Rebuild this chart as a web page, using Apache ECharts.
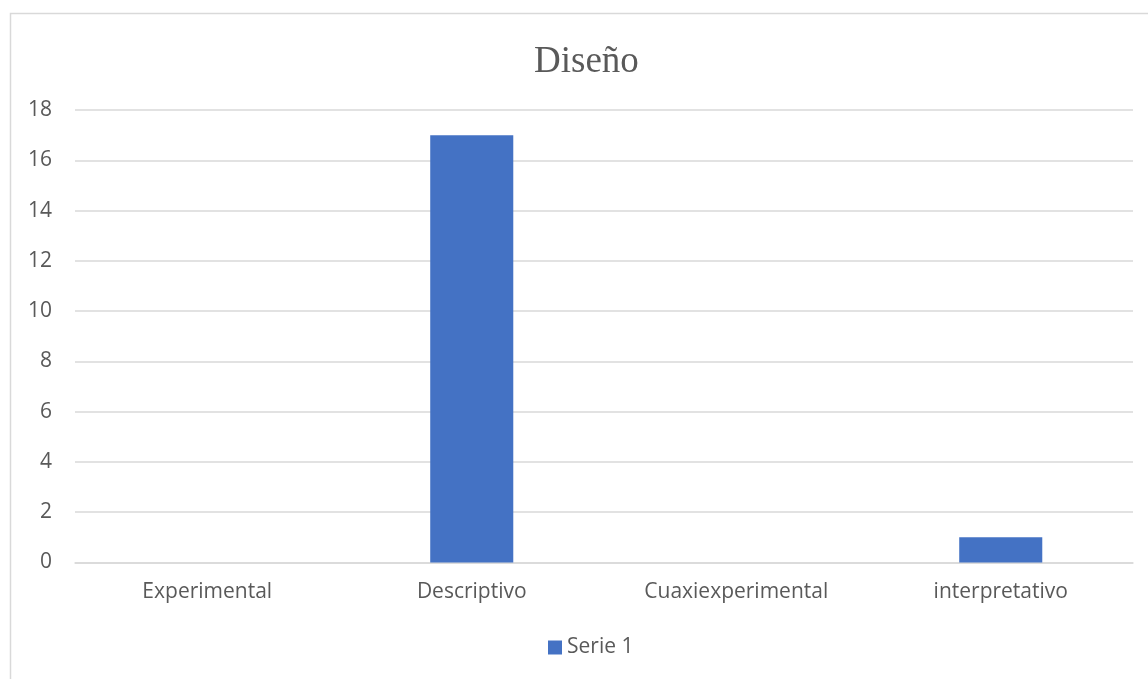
<!DOCTYPE html>
<html>
<head>
<meta charset="utf-8">
<script src="https://cdn.jsdelivr.net/npm/echarts@6/dist/echarts.min.js"></script>
<style>
html,body{margin:0;padding:0;background:#fff;}
#chart{width:1148px;height:679px;}
</style>
</head>
<body>
<div id="chart"></div>
<script>
const categories = ['Experimental', 'Descriptivo', 'Cuaxiexperimental', 'interpretativo'];
const serie1 = [0, 17, 0, 1];
const seriesName = 'Serie 1';
const chartTitle = 'Diseño';
const yMin = 0, yMax = 18, yStep = 2;

const chart = echarts.init(document.getElementById('chart'), null, {renderer: 'canvas'});
const textColor = '#595959';
const gridColor = '#d9d9d9';
chart.setOption({
  animation: false,
  backgroundColor: '#fff',
  graphic: [{
    type: 'rect',
    shape: {x: 10.5, y: 13.5, width: 1300, height: 800},
    style: {fill: 'none', stroke: gridColor, lineWidth: 1.5},
    silent: true
  }],
  title: {
    text: chartTitle,
    left: 529,
    top: 39,
    textStyle: {fontFamily: 'Liberation Serif', fontSize: 37, fontWeight: 'normal', color: textColor}
  },
  legend: {
    data: [seriesName],
    bottom: 16,
    left: 543,
    itemWidth: 14,
    itemHeight: 14,
    itemGap: 6,
    icon: 'rect',
    textStyle: {fontFamily: 'Open Sans', fontSize: 21, color: textColor}
  },
  grid: {left: 75, right: 15, top: 110, bottom: 116.5, containLabel: false},
  xAxis: {
    type: 'category',
    data: categories,
    axisLine: {show: true, lineStyle: {color: gridColor, width: 1.5}},
    axisTick: {show: false},
    axisLabel: {fontFamily: 'Open Sans', fontSize: 21, color: textColor, margin: 19}
  },
  yAxis: {
    type: 'value',
    min: yMin, max: yMax, interval: yStep,
    axisLine: {show: false},
    axisTick: {show: false},
    splitLine: {lineStyle: {color: gridColor, width: 1.5}},
    axisLabel: {fontFamily: 'Open Sans', fontSize: 21, color: textColor, margin: 23}
  },
  series: [{
    name: seriesName,
    type: 'bar',
    data: serie1,
    barWidth: '31.4%',
    itemStyle: {color: '#4472C4'}
  }]
});
</script>
</body>
</html>
